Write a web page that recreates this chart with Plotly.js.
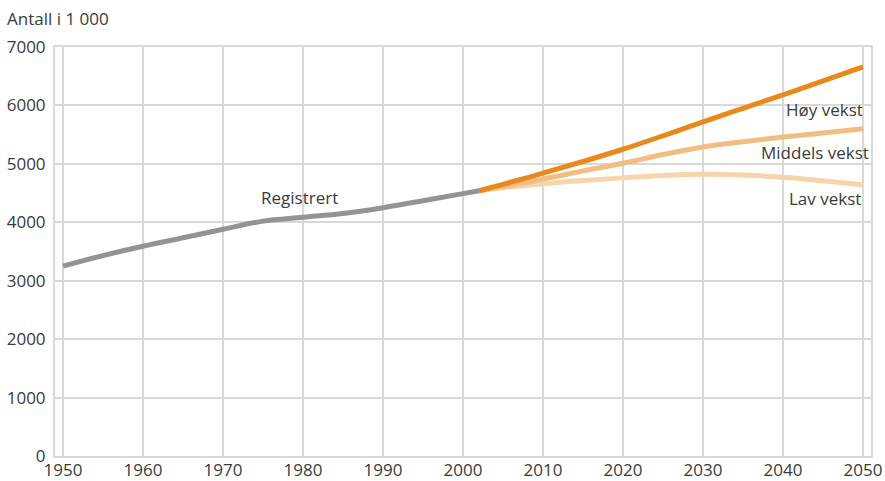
<!DOCTYPE html>
<html>
<head>
<meta charset="utf-8">
<script src="https://cdn.plot.ly/plotly-3.0.1.min.js"></script>
<style>html,body{margin:0;padding:0;background:#fff;}#chart{width:885px;height:481px;}</style>
</head>
<body>
<div id="chart"></div>
<script>
// Registered population (thousands)
const regYears = [1950, 1955, 1960, 1965, 1970, 1975, 1980, 1985, 1990, 1995, 2000, 2002];
const regValues = [3250, 3430, 3590, 3735, 3880, 4020, 4085, 4150, 4250, 4370, 4490, 4540];

// Projections
const projYears = [2002, 2005, 2010, 2015, 2020, 2025, 2030, 2035, 2040, 2045, 2050];
const highValues = [4540, 4650, 4840, 5040, 5250, 5480, 5720, 5950, 6180, 6420, 6660];
const midValues  = [4540, 4610, 4740, 4880, 5010, 5160, 5290, 5380, 5460, 5530, 5600];
const lowValues  = [4540, 4590, 4660, 4715, 4760, 4800, 4820, 4810, 4770, 4710, 4640];

const seriesNames = ["Registrert", "Høy vekst", "Middels vekst", "Lav vekst"];
const xTicks = [1950, 1960, 1970, 1980, 1990, 2000, 2010, 2020, 2030, 2040, 2050];
const yTicks = [0, 1000, 2000, 3000, 4000, 5000, 6000, 7000];

const FONT = "Open Sans, Noto Sans, sans-serif";
const TXT = "#3a3a3a";
const GRID = "#d9d9d9";
const FS = 17;

const traces = [
  {x: projYears, y: lowValues, name: seriesNames[3], mode: "lines", line: {color: "#f7d5ab", width: 5, shape: "spline"}},
  {x: projYears, y: midValues, name: seriesNames[2], mode: "lines", line: {color: "#f2bd80", width: 5, shape: "spline"}},
  {x: projYears, y: highValues, name: seriesNames[1], mode: "lines", line: {color: "#e8891b", width: 5, shape: "spline"}},
  {x: regYears, y: regValues, name: seriesNames[0], mode: "lines", line: {color: "#939393", width: 5, shape: "spline"}}
];

const layout = {
  width: 885, height: 481,
  margin: {l: 55, r: 14, t: 47, b: 25},
  paper_bgcolor: "#fff", plot_bgcolor: "#fff",
  showlegend: false,
  font: {family: FONT, size: FS, color: TXT},
  title: {text: "Antall i 1 000", x: 7/885, xref: "container", xanchor: "left",
          y: 1 - 19/481, yref: "container", yanchor: "middle",
          font: {family: FONT, size: FS, color: TXT}},
  xaxis: {range: [1949, 2051], tickvals: xTicks, ticktext: xTicks.map(String),
          showgrid: true, gridcolor: GRID, gridwidth: 2,
          showline: true, mirror: true, linecolor: GRID, linewidth: 2,
          zeroline: false, ticks: "", ticklabelstandoff: -2, tickfont: {size: FS, color: TXT}},
  yaxis: {range: [0, 7000], tickvals: yTicks, ticktext: yTicks.map(String),
          showgrid: true, gridcolor: GRID, gridwidth: 2,
          showline: true, mirror: true, linecolor: GRID, linewidth: 2,
          zeroline: false, ticks: "outside", ticklen: 4, tickcolor: "rgba(0,0,0,0)",
          tickfont: {size: FS, color: TXT}},
  annotations: [
    {x: 1979.6, y: 4420, xref: "x", yref: "y", text: seriesNames[0], showarrow: false, xanchor: "center", yanchor: "middle", font: {size: FS, color: TXT}},
    {x: 2050.2, y: 5925, xref: "x", yref: "y", text: seriesNames[1], showarrow: false, xanchor: "right", yanchor: "middle", font: {size: FS, color: TXT}},
    {x: 2051, y: 5190, xref: "x", yref: "y", text: seriesNames[2], showarrow: false, xanchor: "right", yanchor: "middle", font: {size: FS, color: TXT}},
    {x: 2050, y: 4400, xref: "x", yref: "y", text: seriesNames[3], showarrow: false, xanchor: "right", yanchor: "middle", font: {size: FS, color: TXT}}
  ]
};

Plotly.newPlot("chart", traces, layout, {staticPlot: true, displayModeBar: false});
</script>
</body>
</html>
